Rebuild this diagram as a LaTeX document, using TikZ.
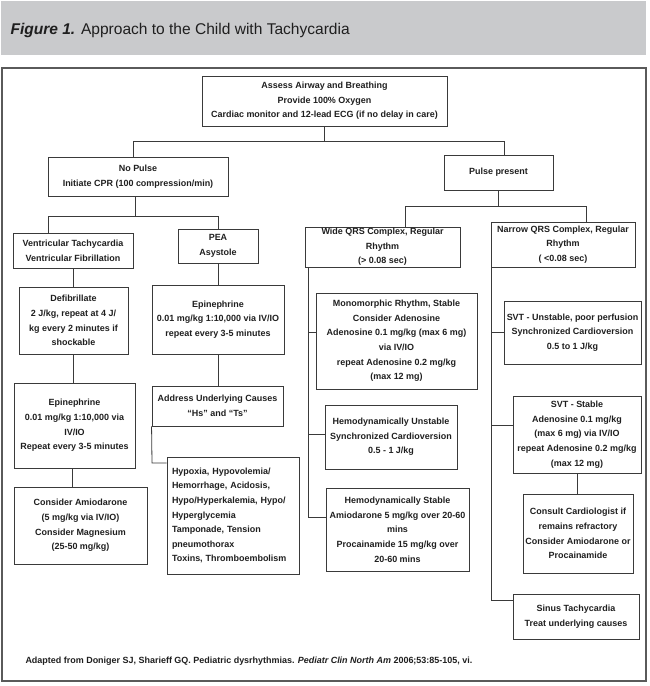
\documentclass[tikz,border=0pt]{standalone}
\usepackage{fontspec}
\setmainfont{Liberation Sans}
\definecolor{bannergray}{HTML}{C9CACC}
\definecolor{ln}{HTML}{3A3A3A}
\definecolor{framegray}{HTML}{5A5A5A}
\newcommand\boxfont{\fontsize{9.0}{14.7}\selectfont\bfseries}
\tikzset{
  box/.style={draw=ln, line width=0.9pt, rectangle, inner sep=0pt, align=center, font=\boxfont, text=black!88},
  conn/.style={draw=ln, line width=0.8pt},
}
\begin{document}
\begin{tikzpicture}[x=1bp,y=-1bp]
\useasboundingbox (0,0) rectangle (650,686);
% banner
\fill[bannergray] (1,1) rectangle (646,55);
\node[anchor=base west, font=\fontsize{15.6}{18}\selectfont, text=black!88] (title) at (7,35)
  {\textbf{\textit{Figure 1.}} Approach to the Child with Tachycardia};
% frame
\draw[framegray, line width=1.3pt] (2,68) rectangle (646,681);

% boxes
\node[box, minimum width=245bp, minimum height=50bp] (top) at (324.5,101)
  {Assess Airway and Breathing\\Provide 100\% Oxygen\\Cardiac monitor and 12-lead ECG (if no delay in care)};
\node[box, minimum width=180bp, minimum height=39bp] (nopulse) at (138,176.5)
  {No Pulse\\Initiate CPR (100 compression/min)};
\node[box, minimum width=109bp, minimum height=35bp] (pulse) at (498.5,172.5)
  {Pulse present};
\node[box, minimum width=120bp, minimum height=35bp] (vt) at (73,250.5)
  {Ventricular Tachycardia\\Ventricular Fibrillation};
\node[box, minimum width=80bp, minimum height=34bp] (pea) at (218,246)
  {PEA\\Asystole};
\node[box, minimum width=155bp, minimum height=40bp] (wide) at (382.5,247)
  {Wide QRS Complex, Regular\\Rhythm\\(> 0.08 sec)};
\node[box, minimum width=144bp, minimum height=45bp] (narrow) at (563,244.5)
  {Narrow QRS Complex, Regular\\Rhythm\\( <0.08 sec)};
\node[box, minimum width=109bp, minimum height=67bp] (defib) at (73.5,320.5)
  {Defibrillate\\2 J/kg, repeat at 4 J/\\kg every 2 minutes if\\shockable};
\node[box, minimum width=121bp, minimum height=85bp] (epione) at (74.5,425.5)
  {Epinephrine\\0.01 mg/kg 1:10,000 via\\IV/IO\\Repeat every 3-5 minutes};
\node[box, minimum width=133bp, minimum height=77bp] (amio) at (80.5,525.5)
  {Consider Amiodarone\\(5 mg/kg via IV/IO)\\Consider Magnesium\\(25-50 mg/kg)};
\node[box, minimum width=132bp, minimum height=69bp] (epitwo) at (218,319.5)
  {Epinephrine\\0.01 mg/kg 1:10,000 via IV/IO\\repeat every 3-5 minutes};
\node[box, minimum width=131bp, minimum height=40bp] (address) at (217.5,406)
  {Address Underlying Causes\\``Hs'' and ``Ts''};
\node[box, minimum width=132bp, minimum height=117bp, text width=122bp, align=left] (hypoxia) at (233,515.5)
  {Hypoxia, Hypovolemia/\\Hemorrhage, Acidosis,\\Hypo/Hyperkalemia, Hypo/\\Hyperglycemia\\Tamponade, Tension\\pneumothorax\\Toxins, Thromboembolism};
\node[box, minimum width=161bp, minimum height=96bp] (mono) at (396.5,341)
  {Monomorphic Rhythm, Stable\\Consider Adenosine\\Adenosine 0.1 mg/kg (max 6 mg)\\via IV/IO\\repeat Adenosine 0.2 mg/kg\\(max 12 mg)};
\node[box, minimum width=132bp, minimum height=64bp] (hunst) at (391,437)
  {Hemodynamically Unstable\\Synchronized Cardioversion\\0.5 - 1 J/kg};
\node[box, minimum width=143bp, minimum height=83bp] (hstab) at (397.5,529.5)
  {Hemodynamically Stable\\Amiodarone 5 mg/kg over 20-60\\mins\\Procainamide 15 mg/kg over\\20-60 mins};
\node[box, minimum width=137bp, minimum height=63bp] (svtu) at (572.5,332.5)
  {SVT - Unstable, poor perfusion\\Synchronized Cardioversion\\0.5 to 1 J/kg};
\node[box, minimum width=128bp, minimum height=77bp] (svts) at (577,434.5)
  {SVT - Stable\\Adenosine 0.1 mg/kg\\(max 6 mg) via IV/IO\\repeat Adenosine 0.2 mg/kg\\(max 12 mg)};
\node[box, minimum width=110bp, minimum height=79bp] (consult) at (578,533.5)
  {Consult Cardiologist if\\remains refractory\\Consider Amiodarone or\\Procainamide};
\node[box, minimum width=126bp, minimum height=45bp] (sinus) at (576,616.5)
  {Sinus Tachycardia\\Treat underlying causes};

% caption
\node[anchor=base west, font=\boxfont, text=black!88] (caption) at (22,663)
  {Adapted from Doniger SJ, Sharieff GQ. Pediatric dysrhythmias. \textit{Pediatr Clin North Am} 2006;53:85-105, vi.};

% connectors
\coordinate (bAL) at (133,141);
\coordinate (bAR) at (504,141);
\draw[conn] (top.south) -- (top.south |- bAL);
\draw[conn] (nopulse.north -| bAL) -- (bAL) -- (bAR) -- (pulse.north -| bAR);

\coordinate (bBM) at (135,216);
\coordinate (bBL) at (48,216);
\coordinate (bBR) at (218,216);
\draw[conn] (nopulse.south -| bBM) -- (bBM);
\draw[conn] (vt.north -| bBL) -- (bBL) -- (bBR) -- (pea.north -| bBR);

\coordinate (bCM) at (498,206);
\coordinate (bCL) at (405,206);
\coordinate (bCR) at (586,206);
\draw[conn] (pulse.south -| bCM) -- (bCM);
\draw[conn] (wide.north -| bCL) -- (bCL) -- (bCR) -- (narrow.north -| bCR);

\draw[conn] (vt.south) -- (defib.north -| vt.south);
\draw[conn] (defib.south -| 73,0) -- (epione.north -| 73,0);
\draw[conn] (epione.south -| 72,0) -- (amio.north -| 72,0);
\draw[conn] (pea.south) -- (epitwo.north);
\draw[conn] (epitwo.south) -- (address.north -| epitwo.south);
\coordinate (hyK) at (152,463);
\draw[conn] (address.south west) -- (hyK) -- (hyK -| hypoxia.west);

\coordinate (wtop) at (308,267);
\draw[conn] (wide.south -| wtop) -- (308,517) -- (hstab.west |- 308,517);
\draw[conn] (308,332) -- (mono.west |- 308,332);
\draw[conn] (308,434) -- (hunst.west |- 308,434);

\coordinate (ntop) at (491,267);
\draw[conn] (narrow.south -| ntop) -- (491,600) -- (sinus.west |- 491,600);
\draw[conn] (491,332) -- (svtu.west |- 491,332);
\draw[conn] (491,425) -- (svts.west |- 491,425);
\draw[conn] (svts.south -| 577,0) -- (consult.north -| 577,0);
\end{tikzpicture}
\end{document}
